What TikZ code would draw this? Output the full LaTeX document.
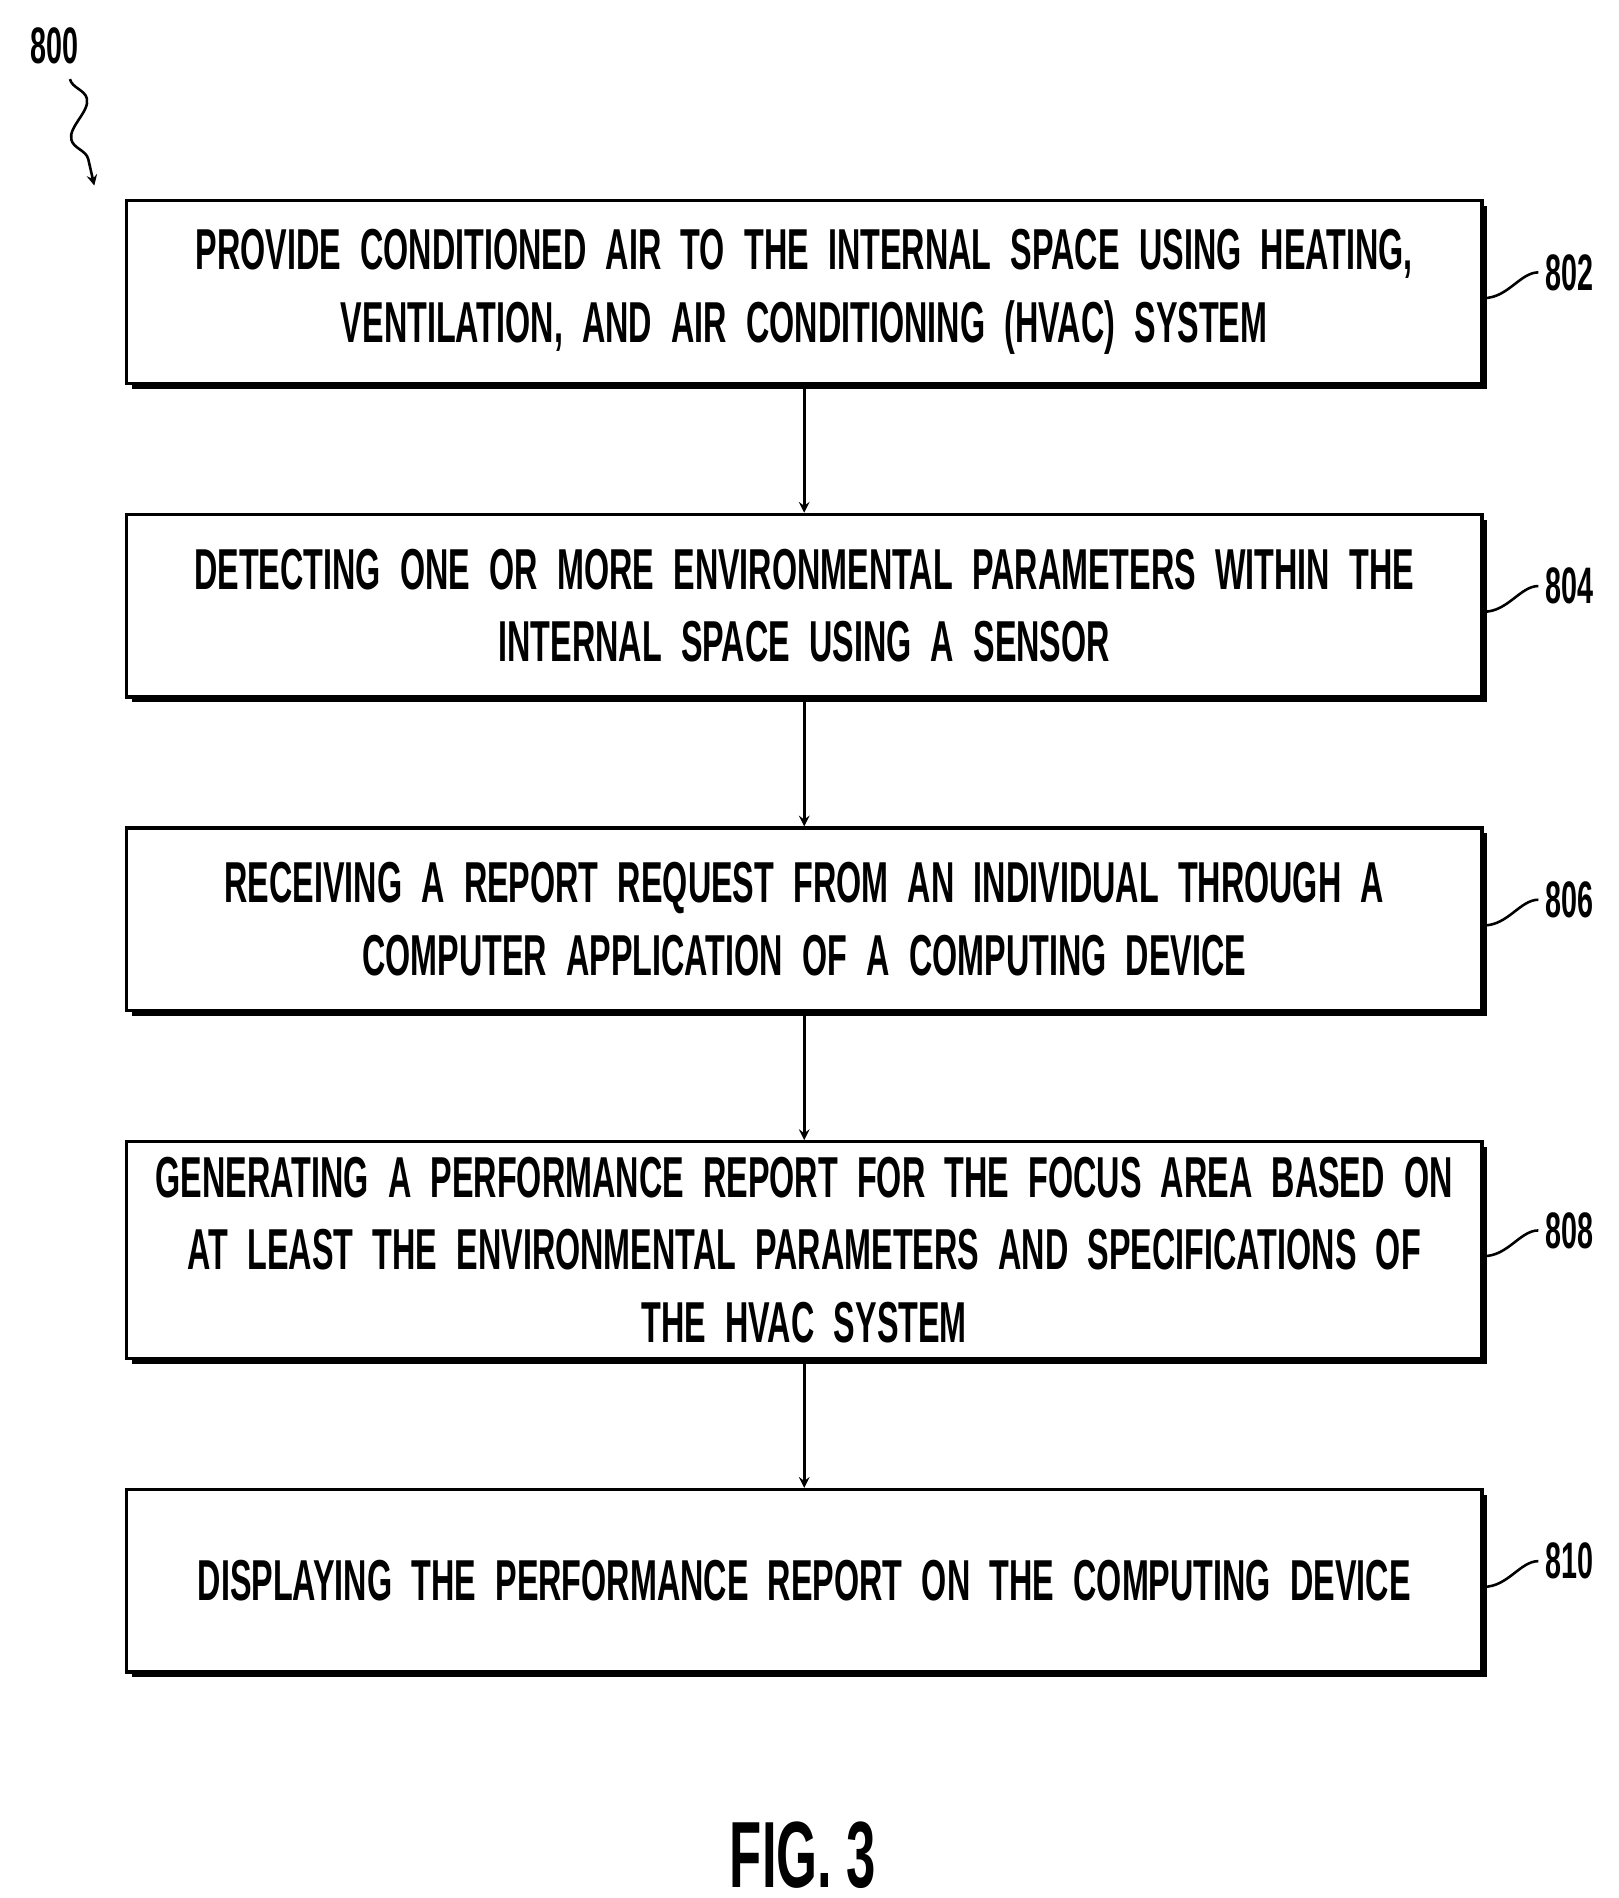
\documentclass[tikz,border=0pt]{standalone}
\usepackage{fontspec}
\setmainfont[FakeStretch=0.56]{Liberation Sans}
\usetikzlibrary{positioning,shadows,decorations.pathmorphing}

\begin{document}
\begin{tikzpicture}[
    >=stealth,
    proc/.style={draw, line width=1.6pt, fill=white, minimum width=22.28cm, minimum height=3cm,
        text width=21.6cm, align=center, font=\fontsize{27}{34}\selectfont\bfseries,
        drop shadow={shadow xshift=2.5pt, shadow yshift=-2.5pt, opacity=1, fill=black}},
    ref/.style={font=\fontsize{24}{28}\selectfont\bfseries, anchor=west},
    node distance=2.1cm
]
\useasboundingbox (0,0) rectangle (26.6,-31.2);

% Steps
\node[proc] (s802) at (13.22,-4.8) {PROVIDE CONDITIONED AIR TO THE INTERNAL SPACE USING HEATING,\\VENTILATION, AND AIR CONDITIONING (HVAC) SYSTEM};
\node[proc, below=of s802] (s804) {DETECTING ONE OR MORE ENVIRONMENTAL PARAMETERS WITHIN THE\\INTERNAL SPACE USING A SENSOR};
\node[proc, below=of s804] (s806) {RECEIVING A REPORT REQUEST FROM AN INDIVIDUAL THROUGH A\\COMPUTER APPLICATION OF A COMPUTING DEVICE};
\node[proc, below=of s806, minimum height=3.56cm] (s808) {GENERATING A PERFORMANCE REPORT FOR THE FOCUS AREA BASED ON\\AT LEAST THE ENVIRONMENTAL PARAMETERS AND SPECIFICATIONS OF\\THE HVAC SYSTEM};
\node[proc, below=of s808] (s810) {DISPLAYING THE PERFORMANCE REPORT ON THE COMPUTING DEVICE};

% Connections
\draw[->, line width=1.2pt] (s802) -- (s804);
\draw[->, line width=1.2pt] (s804) -- (s806);
\draw[->, line width=1.2pt] (s806) -- (s808);
\draw[->, line width=1.2pt] (s808) -- (s810);

% Reference numerals
\foreach \n in {802,804,806,808,810} {
    \node[ref, above right=-0.1cm and 0.9cm of s\n.east] (r\n) {\n};
    \draw[line width=1.2pt] ([yshift=-0.1cm]s\n.east) .. controls +(0.4,0) and +(-0.3,0) .. (r\n.west);
}

% Figure number
\node[font=\fontsize{24}{28}\selectfont\bfseries] (n800) at (0.9,-0.75) {800};
\coordinate (a800) at (1.55,-3.05);
\draw[->, line width=1.2pt, decorate, decoration={snake, amplitude=0.2cm, segment length=1.2cm, post length=0.3cm}] (1.15,-1.3) -- (a800);
\node[font=\fontsize{44}{50}\selectfont\bfseries] (fig) at (13.2,-30.5) {FIG. 3};
\end{tikzpicture}
\end{document}
